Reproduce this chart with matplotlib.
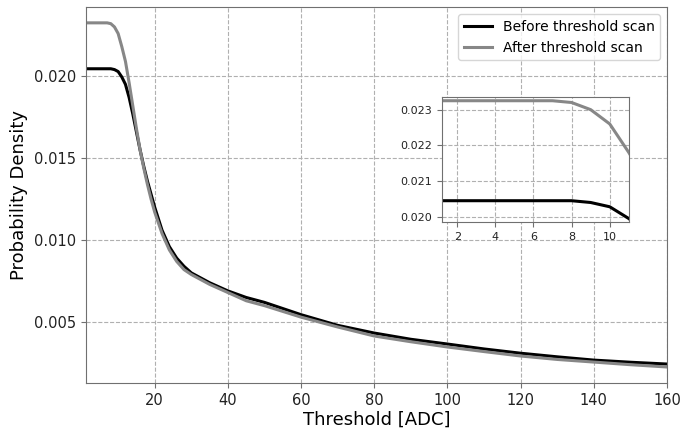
import matplotlib.pyplot as plt

threshold = [1, 2, 3, 4, 5, 6, 7, 8, 9, 10, 11, 12, 13, 14, 15, 16, 17, 18, 19, 20,
             22, 24, 26, 28, 30, 35, 40, 45, 50, 60, 70, 80, 90, 100, 110, 120,
             130, 140, 150, 160]
before = [0.02045, 0.02045, 0.02045, 0.02045, 0.02045, 0.02045, 0.02045, 0.02045,
          0.0204, 0.02028, 0.01995, 0.0195, 0.0187, 0.0177, 0.0166, 0.0155, 0.0145,
          0.0136, 0.0128, 0.0120, 0.0106, 0.0096, 0.0089, 0.0084, 0.0080, 0.0074,
          0.0069, 0.0065, 0.0062, 0.00545, 0.0048, 0.00433, 0.00395, 0.00366,
          0.00336, 0.0031, 0.00288, 0.00268, 0.00255, 0.00244]
after = [0.02325, 0.02325, 0.02325, 0.02325, 0.02325, 0.02325, 0.02325, 0.0232,
         0.0230, 0.0226, 0.0218, 0.0209, 0.0196, 0.0182, 0.0168, 0.0155, 0.0144,
         0.0134, 0.0125, 0.0117, 0.0104, 0.0094, 0.0087, 0.0082, 0.0079, 0.0073,
         0.0068, 0.0063, 0.0060, 0.0053, 0.0047, 0.00415, 0.0038, 0.00348,
         0.0032, 0.00293, 0.00272, 0.00256, 0.0024, 0.00226]

x_ticks = [20, 40, 60, 80, 100, 120, 140, 160]
y_ticks = [0.005, 0.010, 0.015, 0.020]
inset_x_ticks = [2, 4, 6, 8, 10]
inset_y_ticks = [0.020, 0.021, 0.022, 0.023]

gray = '#878787'
spine_col = '#707070'

fig = plt.figure(figsize=(6.82, 4.28), dpi=100)
ax = fig.add_axes([0.126, 0.105, 0.852, 0.878])

ax.plot(threshold, before, color='black', lw=2.2, label='Before threshold scan')
ax.plot(threshold, after, color=gray, lw=2.2, label='After threshold scan')
ax.set_xlim(1.2, 160)
ax.set_ylim(0.00128, 0.0242)
ax.set_xticks(x_ticks)
ax.set_yticks(y_ticks)
ax.set_yticklabels(['%.3f' % v for v in y_ticks])
ax.tick_params(labelsize=10.5, color=spine_col, colors='#222222')
ax.grid(True, ls='--', color='#b0b0b0', lw=0.8)
ax.set_xlabel('Threshold [ADC]', fontsize=13, labelpad=2)
ax.set_ylabel('Probability Density', fontsize=13)
for s in ax.spines.values():
    s.set_color(spine_col)
ax.legend(loc='upper right', fontsize=10)

# inset zoom on the plateau
axin = fig.add_axes([0.648, 0.481, 0.274, 0.292])
axin.plot(threshold, before, color='black', lw=2.2)
axin.plot(threshold, after, color=gray, lw=2.2)
axin.set_xlim(1.2, 11)
axin.set_ylim(0.01985, 0.02335)
axin.set_xticks(inset_x_ticks)
axin.set_yticks(inset_y_ticks)
axin.set_yticklabels(['%.3f' % v for v in inset_y_ticks])
axin.tick_params(labelsize=8, color=spine_col, colors='#222222')
axin.grid(True, ls='--', color='#b0b0b0', lw=0.8)
for s in axin.spines.values():
    s.set_color(spine_col)

fig.savefig('out.png', dpi=100)
